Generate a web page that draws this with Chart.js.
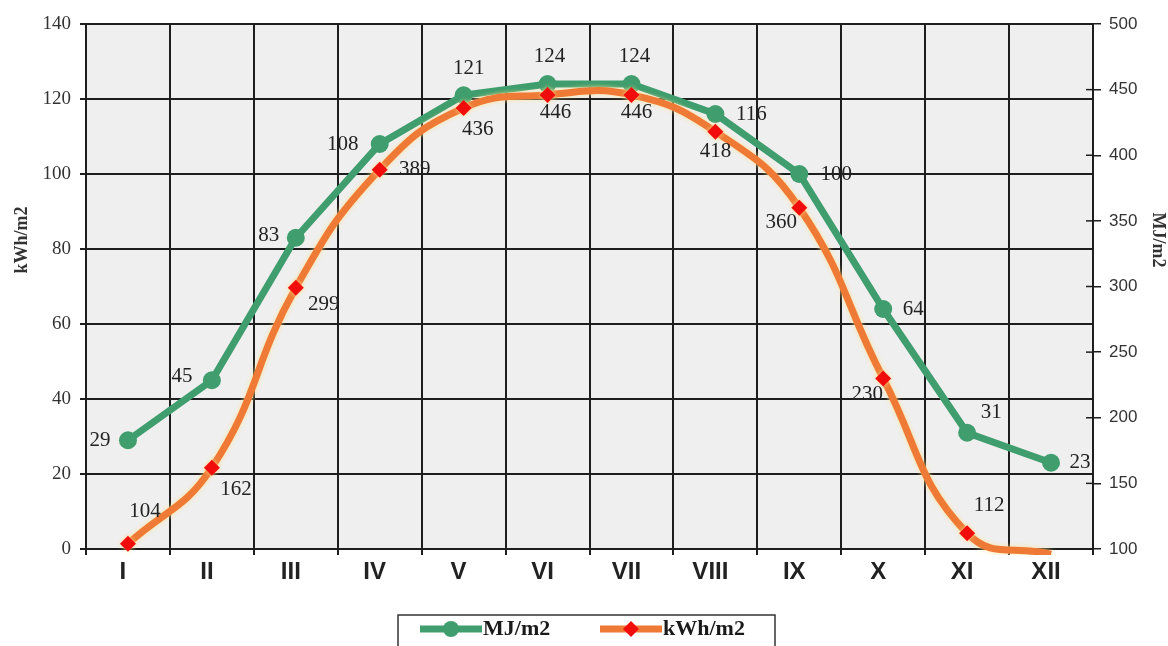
<!DOCTYPE html>
<html>
<head>
<meta charset="utf-8">
<script src="https://cdn.jsdelivr.net/npm/chart.js@4/dist/chart.umd.min.js"></script>
<style>
  html, body { margin: 0; padding: 0; background: #ffffff; }
  canvas { display: block; }
</style>
</head>
<body>
<canvas id="solarChart" width="1168" height="646"></canvas>
<script>
// month categories
const months = ['I', 'II', 'III', 'IV', 'V', 'VI', 'VII', 'VIII', 'IX', 'X', 'XI', 'XII'];

// green series (left axis) - legend says MJ/m2
const mjValues = [29, 45, 83, 108, 121, 124, 124, 116, 100, 64, 31, 23];
// orange series (right axis) - legend says kWh/m2; Dec sits just under the axis floor
const kwhValues = [104, 162, 299, 389, 436, 446, 446, 418, 360, 230, 112, 96];

// axis ranges
const leftMin = 0, leftMax = 140, leftStep = 20;
const rightMin = 100, rightMax = 500, rightStep = 50;

// where each value label sits relative to its point (null = no label)
const mjLabelOffsets = [[-28, 0], [-30, -4], [-27, -2], [-37, 0], [5, -27], [2, -28], [3, -28], [36, 0], [37, 0], [30, 0], [24, -20], [29, 0]];
const kwhLabelOffsets = [[17, -32], [24, 22], [28, 17], [35, 0], [14, 21], [8, 18], [5, 18], [0, 20], [-18, 15], [-16, 16], [22, -28], null];

const serif = '"Liberation Serif", "Times New Roman", serif';
const sans = '"Liberation Sans", Arial, sans-serif';
const green = '#3f9d6e';
const orange = '#ee7a36';
const red = '#f20d0d';
const gridColor = '#1e1e1e';

const plotBackground = {
    id: 'plotBackground',
    beforeDraw(chart) {
        const { ctx, chartArea: a } = chart;
        ctx.save();
        ctx.fillStyle = '#efefef';
        ctx.fillRect(a.left, a.top, a.right - a.left, a.bottom - a.top);
        ctx.restore();
    }
};

// soft light halo around the orange curve
const halo = {
    id: 'halo',
    beforeDatasetDraw(chart, args) {
        if (args.index !== 1) return;
        chart.ctx.save();
        chart.ctx.shadowColor = 'rgba(255, 225, 140, 0.9)';
        chart.ctx.shadowBlur = 4;
    },
    afterDatasetDraw(chart, args) {
        if (args.index !== 1) return;
        chart.ctx.restore();
    }
};

const valueLabels = {
    id: 'valueLabels',
    afterDatasetsDraw(chart) {
        const ctx = chart.ctx;
        const offsetSets = [mjLabelOffsets, kwhLabelOffsets];
        ctx.save();
        ctx.font = '21px ' + serif;
        ctx.fillStyle = '#222';
        ctx.textAlign = 'center';
        ctx.textBaseline = 'middle';
        chart.data.datasets.forEach((ds, di) => {
            const meta = chart.getDatasetMeta(di);
            meta.data.forEach((pt, i) => {
                const off = offsetSets[di][i];
                if (!off) return;
                ctx.fillText(String(ds.data[i]), pt.x + off[0], pt.y + off[1]);
            });
        });
        ctx.restore();
    }
};

const extras = {
    id: 'extras',
    afterDraw(chart) {
        const { ctx, chartArea: a } = chart;
        const y2 = chart.scales.y2;
        ctx.save();
        // inner half of the right axis tick marks
        ctx.strokeStyle = gridColor;
        ctx.lineWidth = 1.5;
        y2.ticks.forEach(t => {
            const yy = y2.getPixelForValue(t.value);
            ctx.beginPath();
            ctx.moveTo(a.right - 7, yy);
            ctx.lineTo(a.right, yy);
            ctx.stroke();
        });

        // axis titles
        ctx.fillStyle = '#333';
        ctx.font = 'bold 18px ' + serif;
        ctx.textAlign = 'center';
        ctx.textBaseline = 'middle';
        ctx.save();
        ctx.translate(22, 240);
        ctx.rotate(-Math.PI / 2);
        ctx.fillText('kWh/m2', 0, 0);
        ctx.restore();
        ctx.save();
        ctx.translate(1158, 240);
        ctx.rotate(Math.PI / 2);
        ctx.fillText('MJ/m2', 0, 0);
        ctx.restore();

        // legend box
        ctx.strokeStyle = '#333';
        ctx.lineWidth = 1.5;
        ctx.strokeRect(398, 615, 377, 40);
        const items = [
            { x: 420, ds: chart.data.datasets[0], style: 'circle' },
            { x: 600, ds: chart.data.datasets[1], style: 'diamond' }
        ];
        const ly = 629;
        ctx.font = 'bold 22px ' + serif;
        ctx.textAlign = 'left';
        ctx.fillStyle = '#1a1a1a';
        items.forEach(it => {
            ctx.strokeStyle = it.ds.borderColor;
            ctx.lineWidth = 7;
            ctx.beginPath();
            ctx.moveTo(it.x, ly);
            ctx.lineTo(it.x + 62, ly);
            ctx.stroke();
            ctx.fillStyle = it.ds.pointBackgroundColor;
            ctx.beginPath();
            if (it.style === 'circle') {
                ctx.arc(it.x + 31, ly, 8, 0, Math.PI * 2);
            } else {
                ctx.moveTo(it.x + 31, ly - 8);
                ctx.lineTo(it.x + 39, ly);
                ctx.lineTo(it.x + 31, ly + 8);
                ctx.lineTo(it.x + 23, ly);
                ctx.closePath();
            }
            ctx.fill();
            ctx.fillStyle = '#1a1a1a';
            ctx.fillText(it.ds.label, it.x + 63, ly);
        });
        ctx.restore();
    }
};

new Chart(document.getElementById('solarChart'), {
    type: 'line',
    data: {
        labels: months,
        datasets: [
            {
                label: 'MJ/m2',
                data: mjValues,
                yAxisID: 'y',
                borderColor: green,
                backgroundColor: green,
                pointBackgroundColor: green,
                pointBorderColor: green,
                borderWidth: 7,
                pointRadius: 9,
                pointBorderWidth: 0,
                tension: 0,
                order: 1
            },
            {
                label: 'kWh/m2',
                data: kwhValues,
                yAxisID: 'y2',
                borderColor: orange,
                backgroundColor: orange,
                pointBackgroundColor: red,
                pointBorderColor: red,
                pointStyle: 'rectRot',
                // last point hidden under the floor, only its curve shows
                pointRadius: [8, 8, 8, 8, 8, 8, 8, 8, 8, 8, 8, 0],
                borderWidth: 7,
                pointBorderWidth: 0,
                tension: 0.45,
                clip: { left: 5, top: 5, right: 5, bottom: 6 },
                order: 0
            }
        ]
    },
    options: {
        responsive: false,
        animation: false,
        devicePixelRatio: 1,
        layout: { padding: { top: 24, left: 0, right: 0, bottom: 0 } },
        plugins: {
            legend: { display: false },
            tooltip: { enabled: false }
        },
        scales: {
            x: {
                offset: true,
                grid: { color: gridColor, lineWidth: 2, tickLength: 6, offset: true },
                border: { color: gridColor, width: 2 },
                ticks: {
                    font: { family: sans, size: 24, weight: 'bold' },
                    color: '#222',
                    padding: 3,
                    labelOffset: -5,
                    maxRotation: 0,
                    autoSkip: false
                },
                afterFit(scale) { scale.height = 97; }
            },
            y: {
                position: 'left',
                min: leftMin,
                max: leftMax,
                ticks: {
                    stepSize: leftStep,
                    font: { family: serif, size: 19 },
                    color: '#333',
                    padding: 9
                },
                grid: { color: gridColor, lineWidth: 2, tickLength: 6 },
                border: { color: gridColor, width: 2 },
                afterFit(scale) { scale.width = 86; }
            },
            y2: {
                position: 'right',
                min: rightMin,
                max: rightMax,
                ticks: {
                    stepSize: rightStep,
                    font: { family: sans, size: 17 },
                    color: '#333',
                    padding: 8
                },
                grid: { drawOnChartArea: false, color: gridColor, lineWidth: 1.5, tickLength: 8 },
                border: { color: gridColor, width: 2 },
                afterFit(scale) { scale.width = 75; }
            }
        }
    },
    plugins: [plotBackground, halo, valueLabels, extras]
});
</script>
</body>
</html>
